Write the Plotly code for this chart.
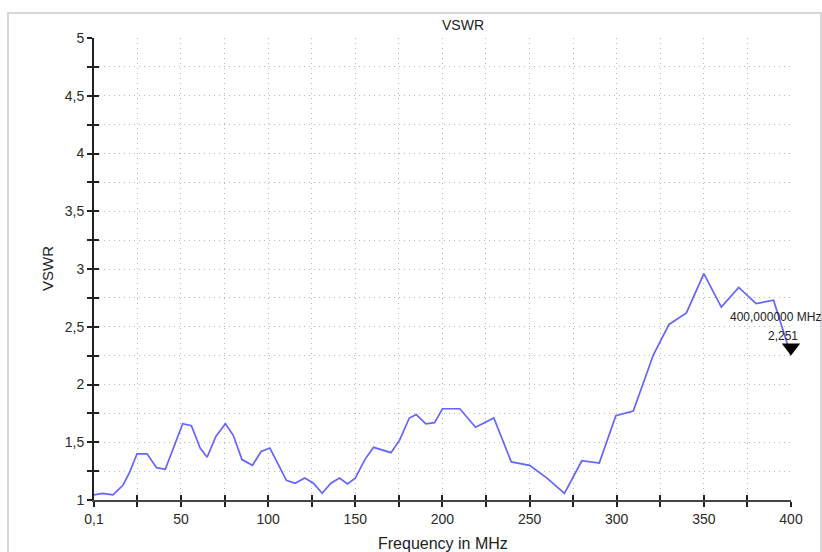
import plotly.graph_objects as go

# VSWR sweep
freq_mhz = [0.1, 5, 11, 16.8, 20.5, 24.8, 30.5, 36, 41, 51, 56, 61, 65, 70,
            75.5, 80, 85, 91, 96, 101, 110.5, 115.5, 121, 126, 131, 136,
            141, 145.5, 150, 155.5, 160.5, 170.5, 175.5, 181, 185, 190.5,
            195.5, 200, 210, 219, 229.5, 239.5, 250, 260, 270, 280, 290,
            299.5, 309.5, 321, 330, 340, 350, 360, 370, 380, 390, 397.5, 400]
vswr = [1.045, 1.058, 1.045, 1.13, 1.24, 1.40, 1.40, 1.28, 1.265, 1.66,
        1.643, 1.45, 1.37, 1.55, 1.66, 1.56, 1.35, 1.30, 1.42, 1.45,
        1.17, 1.145, 1.19, 1.145, 1.058, 1.145, 1.19, 1.14, 1.19, 1.35,
        1.456, 1.41, 1.52, 1.71, 1.74, 1.66, 1.67, 1.79, 1.79, 1.63,
        1.71, 1.33, 1.30, 1.19, 1.058, 1.34, 1.32, 1.73, 1.77, 2.255,
        2.52, 2.62, 2.96, 2.67, 2.84, 2.70, 2.73, 2.37, 2.251]

marker_freq = 400
marker_vswr = 2.251
marker_label = "400,000000 MHz"
marker_value = "2,251"

x_ticks = [0.1, 50, 100, 150, 200, 250, 300, 350, 400]
x_labels = ["0,1", "50", "100", "150", "200", "250", "300", "350", "400"]

fig = go.Figure()
fig.add_trace(go.Scatter(x=freq_mhz, y=vswr, mode="lines",
                         line=dict(color="#6464ff", width=1.7),
                         showlegend=False, hoverinfo="skip"))
# marker triangle sits just above the measured point, tip on the value
fig.add_trace(go.Scatter(x=[marker_freq], y=[marker_vswr + 0.07], mode="markers",
                         marker=dict(symbol="triangle-down", size=16, color="black"),
                         showlegend=False, cliponaxis=False, hoverinfo="skip"))

tick_font = dict(family="Liberation Sans, Arial", size=14, color="#2a2a2a")
grid = dict(showgrid=True, gridcolor="#b8b8b8", griddash="1px,4px", gridwidth=1)
tk = dict(ticklen=5, tickwidth=2, tickcolor="#222")

fig.update_layout(
    width=822, height=552,
    margin=dict(l=94, r=31, t=38, b=52),
    paper_bgcolor="white", plot_bgcolor="white",
    separators=",.",
    xaxis=dict(range=[0.1, 400], tickvals=x_ticks, ticktext=x_labels,
               ticks="outside", **tk,
               showline=True, linecolor="#444", linewidth=2,
               tickfont=tick_font, zeroline=False, showgrid=False,
               minor=dict(dtick=25, tick0=0, ticks="outside", **tk, **grid)),
    yaxis=dict(range=[1, 5], dtick=0.5, tick0=1, ticks="outside", **tk,
               showline=True, linecolor="#222", linewidth=2,
               tickfont=tick_font, zeroline=False, **grid,
               minor=dict(dtick=0.25, tick0=1, ticks="outside", **tk, **grid)),
    # overlay axes only to draw the inner half of the crossing ticks
    xaxis2=dict(overlaying="x", range=[0.1, 400], side="bottom",
                tickvals=x_ticks, ticks="inside", **tk,
                showticklabels=False, showgrid=False, zeroline=False,
                minor=dict(dtick=25, tick0=0, ticks="inside", **tk, showgrid=False)),
    yaxis2=dict(overlaying="y", range=[1, 5], side="left", dtick=0.5, tick0=1,
                ticks="inside", **tk,
                showticklabels=False, showgrid=False, zeroline=False,
                minor=dict(dtick=0.25, tick0=1, ticks="inside", **tk, showgrid=False)),
)
fig.add_trace(go.Scatter(x=[None], y=[None], xaxis="x2", yaxis="y2",
                         showlegend=False, hoverinfo="skip"))

# outer frame
fig.add_shape(type="rect", xref="paper", yref="paper",
              x0=-0.1234, x1=1.043, y0=-0.2, y1=1.054,
              line=dict(color="#d6d6d6", width=2), layer="below")

ann_font = dict(family="Liberation Sans, Arial", color="#222")
fig.add_annotation(text="VSWR", xref="paper", yref="paper", x=0.529, y=1.028,
                   yanchor="middle", showarrow=False, font=dict(size=14, **ann_font))
fig.add_annotation(text="VSWR", xref="paper", yref="paper", x=-0.0674, y=0.5,
                   xanchor="center", yanchor="middle", textangle=-90,
                   showarrow=False, font=dict(size=15, **ann_font))
fig.add_annotation(text="Frequency in MHz", xref="paper", yref="paper",
                   x=0.5, y=-0.095, yanchor="middle", showarrow=False,
                   font=dict(size=16, **ann_font))
fig.add_annotation(text=marker_label, x=marker_freq, y=marker_vswr,
                   xshift=-16, yshift=39, yanchor="middle", showarrow=False,
                   font=dict(size=12, **ann_font))
fig.add_annotation(text=marker_value, x=marker_freq, y=marker_vswr,
                   xshift=-8, yshift=20, yanchor="middle", showarrow=False,
                   font=dict(size=12, **ann_font))

# drop the default 8px page margin so the figure fills the window exactly
fig.write_html("out.html", config={"displayModeBar": False},
               post_script="document.body.style.margin='0';"
                           "document.body.style.overflow='hidden';")
